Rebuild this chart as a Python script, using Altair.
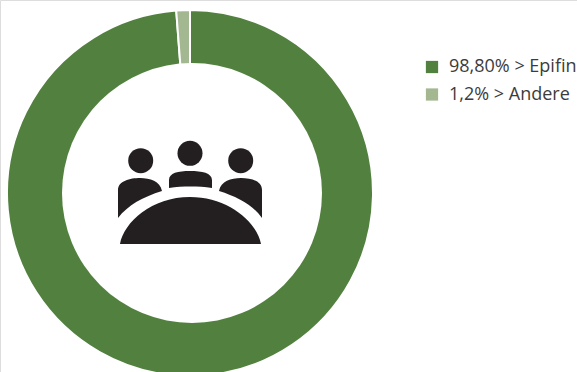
import altair as alt
import pandas as pd

# Share of the two groups
labels = ["98,80% > Epifin", "1,2% > Andere"]
shares = [98.8, 1.2]
colors = ["#52813f", "#a3b890"]

ring = pd.DataFrame({"label": labels, "share": shares, "rank": [0, 1]})

# Meeting-table pictogram, outlined in pixels around its anchor
ICON_X, ICON_Y, ICON_SPAN = 190, 193, 180


def pt(x, y):
    return f"{(x - ICON_X) / (ICON_SPAN / 2):.4f},{(y - ICON_Y) / (ICON_SPAN / 2):.4f}"


table_path = (
    f"M{pt(120, 244)} C{pt(124, 222)} {pt(152, 197)} {pt(190, 197)} "
    f"C{pt(228, 197)} {pt(257, 222)} {pt(261, 244)} Z"
)
middle_path = (
    f"M{pt(169, 188)} L{pt(169, 180)} C{pt(169, 173)} {pt(178, 171)} {pt(190, 171)} "
    f"C{pt(202, 171)} {pt(212, 173)} {pt(212, 180)} L{pt(212, 188)} "
    f"C{pt(198, 186)} {pt(183, 186)} {pt(169, 188)} Z"
)
left_path = (
    f"M{pt(118, 218)} L{pt(118, 190)} C{pt(118, 181)} {pt(130, 178)} {pt(140, 178)} "
    f"C{pt(150, 178)} {pt(160, 181)} {pt(162, 191)} "
    f"C{pt(143, 197)} {pt(128, 205)} {pt(118, 218)} Z"
)
right_path = (
    f"M{pt(262, 218)} L{pt(262, 190)} C{pt(262, 181)} {pt(251, 178)} {pt(241, 178)} "
    f"C{pt(231, 178)} {pt(221, 181)} {pt(219, 191)} "
    f"C{pt(238, 197)} {pt(253, 205)} {pt(262, 218)} Z"
)
icon_path = " ".join([table_path, middle_path, left_path, right_path])

head_x = [140.7, 190, 240.7]
head_y = [160.7, 153.3, 160.7]
heads = pd.DataFrame({"px": head_x, "py": head_y})

x_enc = alt.X("px:Q", scale=alt.Scale(domain=[0, 577], range=[0, 577]), axis=None)
y_enc = alt.Y("py:Q", scale=alt.Scale(domain=[0, 372], range=[0, 372]), axis=None)

donut = (
    alt.Chart(ring)
    .mark_arc(innerRadius=122, outerRadius=183, stroke="white", strokeWidth=2)
    .encode(
        x=alt.value(190),
        y=alt.value(193),
        theta=alt.Theta("share:Q", stack=True),
        order=alt.Order("rank:Q"),
        color=alt.Color(
            "label:N",
            sort=labels,
            scale=alt.Scale(domain=labels, range=colors),
            legend=alt.Legend(
                title=None,
                orient="none",
                legendX=423,
                legendY=58,
                symbolType="square",
                symbolSize=150,
                symbolStrokeWidth=0,
                labelFont="Open Sans",
                labelFontSize=18,
                labelColor="#3c3c3c",
                labelLimit=170,
                rowPadding=9.5,
                labelOffset=8,
            ),
        ),
    )
)

# The hole sits slightly right of the ring's centre
hole = (
    alt.Chart(pd.DataFrame({"px": [192], "py": [193]}))
    .mark_circle(color="white", opacity=1, size=260**2)
    .encode(x=x_enc, y=y_enc)
)

body = (
    alt.Chart(pd.DataFrame({"px": [ICON_X], "py": [ICON_Y]}))
    .mark_point(shape=icon_path, filled=True, fill="#231f20", opacity=1, size=ICON_SPAN**2)
    .encode(x=x_enc, y=y_enc)
)

head_marks = (
    alt.Chart(heads)
    .mark_circle(color="#231f20", opacity=1, size=25**2)
    .encode(x=x_enc, y=y_enc)
)

chart = (
    alt.layer(donut, hole, body, head_marks)
    .resolve_scale(x="shared", y="shared")
    .properties(width=577, height=372, padding=0, autosize=alt.AutoSizeParams(type="none"))
    .configure_view(strokeWidth=0)
    .configure(background="white")
)

chart.save("out.html", embed_options={"renderer": "svg", "actions": False})
